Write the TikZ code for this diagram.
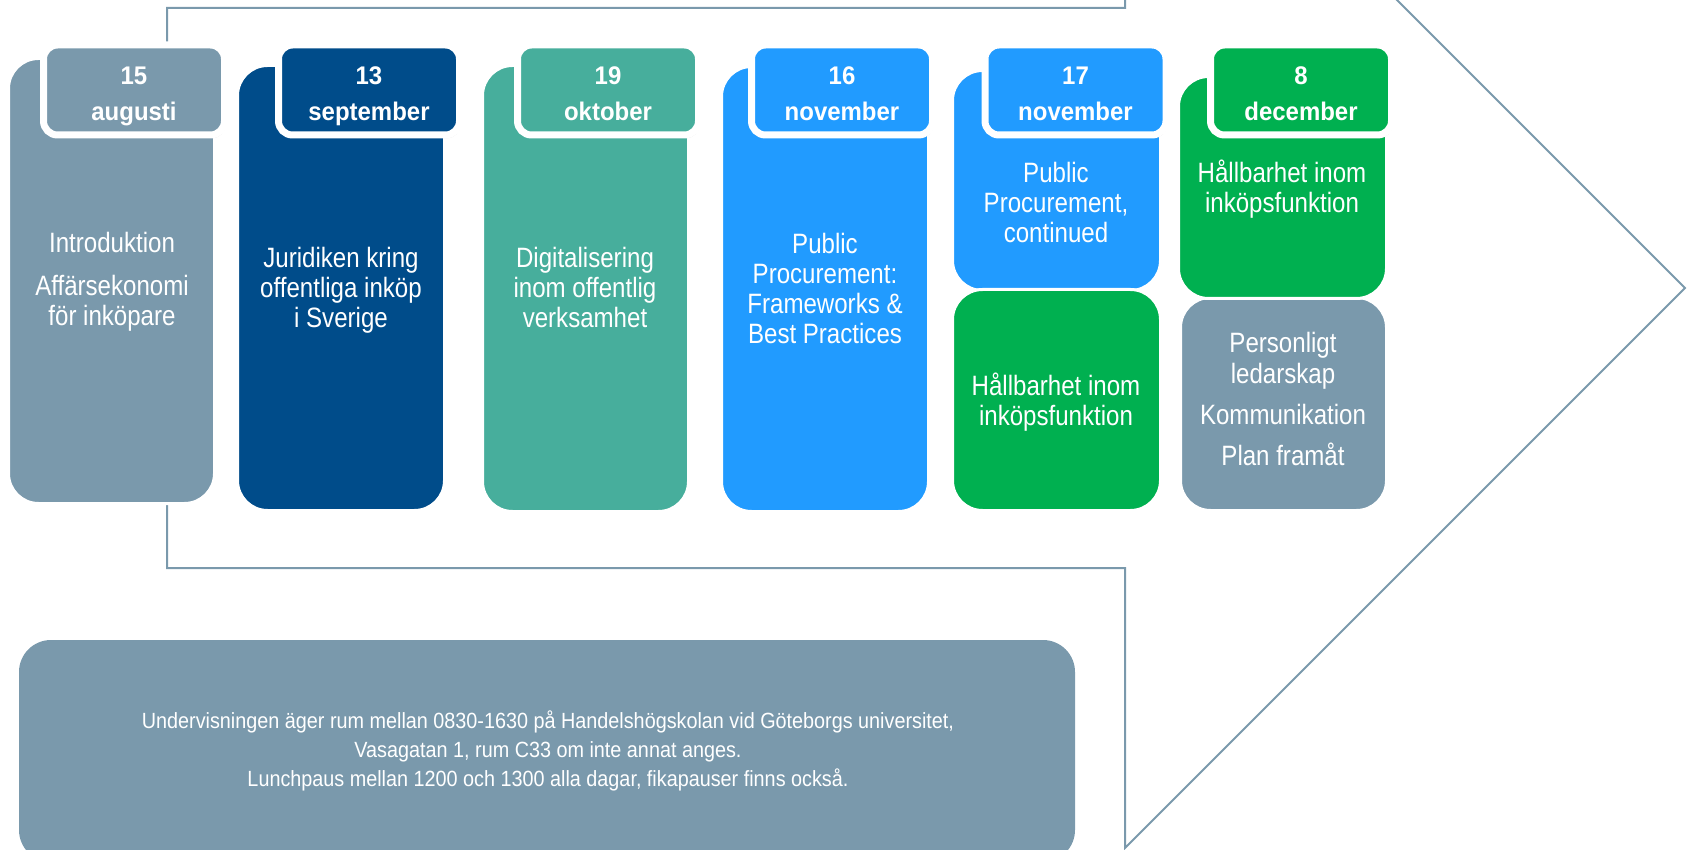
\documentclass[tikz,border=0pt]{standalone}
\usepackage{fontspec}
\setmainfont{Liberation Sans}
\newfontfamily\bodyfont[FakeStretch=0.86]{Liberation Sans}
\newfontfamily\notefont[FakeStretch=0.9]{Liberation Sans}
\newfontfamily\datefont[FakeStretch=0.94]{Liberation Sans}
\usetikzlibrary{shadows}
\definecolor{cgray}{HTML}{7A99AC}
\definecolor{cdark}{HTML}{004C8A}
\definecolor{cteal}{HTML}{47AE9C}
\definecolor{cblue}{HTML}{219BFF}
\definecolor{cgreen}{HTML}{00B050}
\newcommand\tstr{\rule{0pt}{0.94em}}
\newcommand\bstr{\rule[-0.22em]{0pt}{0.22em}}
\newcommand\dstr{\rule{0pt}{1.2em}}
\tikzset{
  body/.style={draw=white, line width=1.5pt, rounded corners=15pt, inner sep=0pt},
  tab/.style={draw=white, line width=3.5pt, rounded corners=7pt, minimum width=90.5pt,
    minimum height=45pt, inner sep=0pt, text=white, align=center,
    font=\datefont\bfseries\fontsize{12.75}{18}\selectfont,
    drop shadow={opacity=0.25, shadow xshift=0.6pt, shadow yshift=-1.6pt}},
  lbl/.style={text=white, align=center, inner sep=0pt, font=\bodyfont\fontsize{14}{15}\selectfont},
  note/.style={text=white, align=center, inner sep=0pt, font=\notefont\fontsize{11}{14.5}\selectfont},
  outline/.style={draw=cgray, line width=1pt, line join=miter}
}
\begin{document}
\begin{tikzpicture}[x=0.5pt, y=-0.5pt]
\useasboundingbox (0,0) rectangle (1688,850);
\clip (0,0) rectangle (1688,850);
% big arrow outline
\draw[outline] (167,8) -- (1125,8) -- (1125,-272) -- (1685,288) -- (1125,848) -- (1125,568) -- (167,568) -- cycle;
% note box
\node[fill=cgray, rounded corners=16pt, inner sep=0pt, minimum width=528pt, minimum height=111pt] (nb) at (547,751) {};
\node[note] (nt) at (548,749.5) {\tstr Undervisningen äger rum mellan 0830-1630 på Handelshögskolan vid Göteborgs universitet,\\ Vasagatan 1, rum C33 om inte annat anges.\\ Lunchpaus mellan 1200 och 1300 alla dagar, fikapauser finns också.\bstr};
% body boxes
\node[body, fill=cgray,  minimum width=103pt,   minimum height=222.5pt] (c1) at (111.5,281) {};
\node[body, fill=cdark,  minimum width=103.5pt, minimum height=222.5pt] (c2) at (341,288) {};
\node[body, fill=cteal,  minimum width=103pt,   minimum height=223pt]   (c3) at (585.5,288.5) {};
\node[body, fill=cblue,  minimum width=103.5pt, minimum height=222.5pt] (c4) at (825,289) {};
\node[body, fill=cblue,  minimum width=104pt,   minimum height=110pt]   (c5a) at (1056.5,180.5) {};
\node[body, fill=cgreen, minimum width=104pt,   minimum height=110.5pt] (c5b) at (1056.5,400) {};
\node[body, fill=cgray,  minimum width=103pt,   minimum height=106.5pt] (c6b) at (1283.5,404) {};
\node[body, fill=cgreen, minimum width=104pt,   minimum height=111pt]   (c6a) at (1282.5,187.5) {};
% body texts
\node[lbl] (t1) at (112,279) {\tstr Introduktion\\[6.5pt] Affärsekonomi\\ för inköpare\bstr};
\node[lbl] (t2) at (341,287) {\tstr Juridiken kring\\ offentliga inköp\\ i Sverige\bstr};
\node[lbl] (t3) at (585,287) {\tstr Digitalisering\\ inom offentlig\\ verksamhet\bstr};
\node[lbl] (t4) at (825,288) {\tstr Public\\ Procurement:\\ Frameworks \&\\ Best Practices\bstr};
\node[lbl] (t5a) at (1056,202) {\tstr Public\\ Procurement,\\ continued\bstr};
\node[lbl] (t5b) at (1056,400) {\tstr Hållbarhet inom\\ inköpsfunktion\bstr};
\node[lbl] (t6a) at (1282,187) {\tstr Hållbarhet inom\\ inköpsfunktion\bstr};
\node[lbl] (t6b) at (1283,398.5) {\tstr Personligt\\[0.5pt] ledarskap\\[5.5pt] Kommunikation\\[5.5pt] Plan framåt\bstr};
% date tabs
\node[tab, fill=cgray]  (d1) at (134,90)    {\dstr 15\\ augusti\bstr};
\node[tab, fill=cdark]  (d2) at (369,90)    {\dstr 13\\ september\bstr};
\node[tab, fill=cteal]  (d3) at (608,90)    {\dstr 19\\ oktober\bstr};
\node[tab, fill=cblue]  (d4) at (842,90)    {\dstr 16\\ november\bstr};
\node[tab, fill=cblue]  (d5) at (1075.5,90) {\dstr 17\\ november\bstr};
\node[tab, fill=cgreen] (d6) at (1301,90)   {\dstr 8\\ december\bstr};
\end{tikzpicture}
\end{document}
